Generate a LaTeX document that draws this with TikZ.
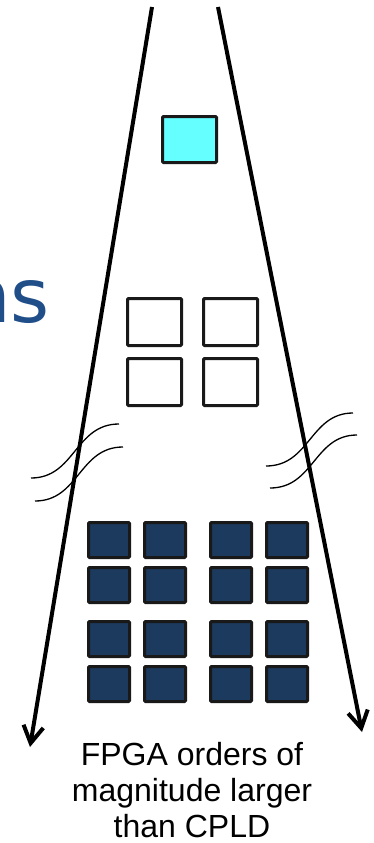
\documentclass[tikz,border=0pt]{standalone}
\usepackage{fontspec}
\setmainfont{Liberation Sans}
\newfontfamily\titlefont{DejaVu Sans}
\usetikzlibrary{arrows.meta}
\definecolor{fpgablue}{HTML}{1C3A5E}
\definecolor{cpldcyan}{HTML}{66FFFF}
\definecolor{titleblue}{HTML}{1F4E89}
\begin{document}
\begin{tikzpicture}[x=1pt,y=-1pt,
        cell/.style={draw=black!90,line width=3pt,rounded corners=1pt,inner sep=0pt},
        fan/.style={line width=4pt,-{Straight Barb[length=17pt,width=20pt]}},
        brk/.style={line width=1.3pt}]
        \useasboundingbox (0,0) rectangle (374,843);
        \clip (0,0) rectangle (374,843);
        \node[anchor=base east,inner sep=0pt,text=titleblue,font=\titlefont\fontsize{75}{80}\selectfont] (title) at (50,322) {ns};
        \coordinate (ltop) at (152,7);
        \coordinate (lend) at (30,747);
        \coordinate (rtop) at (218,7);
        \coordinate (rend) at (362,732);
        \draw[fan] (ltop) -- (lend);
        \draw[fan] (rtop) -- (rend);
        \node[cell,fill=cpldcyan,minimum width=54pt,minimum height=46pt] (spld) at (189.5,139.5) {};
        \foreach \i/\x in {1/154.5,2/230.5}
            \foreach \j/\y in {1/322,2/382}
                {\node[cell,fill=white,minimum width=54pt,minimum height=47pt] (cpld\i\j) at (\x,\y) {};}
        \foreach \i/\x in {1/109,2/165,3/231,4/287}
            \foreach \j/\y in {1/540,2/585,3/639,4/684}
                {\node[cell,fill=fpgablue,minimum width=41pt,minimum height=35pt] (fpga\i\j) at (\x,\y) {};}
        \foreach \dx/\dy in {0/0,4/23}
            {\draw[brk] (31+\dx,478+\dy) .. controls (75+\dx,478+\dy) and (75+\dx,424+\dy) .. (119+\dx,424+\dy);}
        \foreach \dx/\dy in {0/0,4/22}
            {\draw[brk] (266+\dx,466+\dy) .. controls (310+\dx,466+\dy) and (310+\dx,413+\dy) .. (353+\dx,413+\dy);}
        \node[align=center,inner sep=0pt,anchor=north,font=\fontsize{32}{36}\selectfont] (note) at (192,742) {FPGA orders of\\magnitude larger\\than CPLD};
\end{tikzpicture}
\end{document}
